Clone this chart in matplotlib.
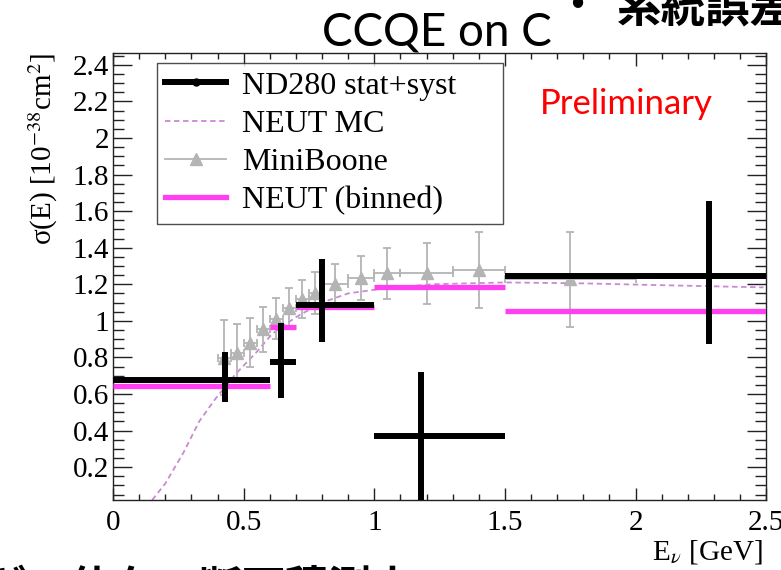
import matplotlib
matplotlib.use("Agg")
import matplotlib.pyplot as plt
from matplotlib.lines import Line2D
from matplotlib.ticker import MultipleLocator
import numpy as np

# ND280 measurement (stat+syst), bins in Ev [GeV]
nd_lo = [0.0, 0.6, 0.7, 1.0, 1.5]
nd_hi = [0.6, 0.7, 1.0, 1.5, 2.5]
nd_x = [0.43, 0.643, 0.80, 1.18, 2.28]
nd_y = [0.677, 0.776, 1.088, 0.371, 1.246]
nd_err_dn = [0.12, 0.20, 0.203, 0.40, 0.372]
nd_err_up = [0.153, 0.214, 0.252, 0.35, 0.41]

# NEUT prediction averaged in the ND280 bins
neut_bin_y = [0.645, 0.968, 1.074, 1.183, 1.056]

# NEUT MC curve
mc_x = [0.15, 0.2, 0.27, 0.33, 0.39, 0.47, 0.55, 0.61, 0.7, 0.8, 0.9, 1.0, 1.06, 1.22, 1.5, 1.8, 2.1, 2.49]
mc_y = [0.02, 0.11, 0.28, 0.45, 0.57, 0.71, 0.83, 0.93, 1.02, 1.10, 1.15, 1.17, 1.18, 1.20, 1.21, 1.205, 1.195, 1.183]

# MiniBooNE CCQE sigma(E)
mb_lo = [0.40, 0.45, 0.50, 0.55, 0.60, 0.65, 0.70, 0.75, 0.80, 0.90, 1.00, 1.10, 1.30, 1.50]
mb_hi = [0.45, 0.50, 0.55, 0.60, 0.65, 0.70, 0.75, 0.80, 0.90, 1.00, 1.10, 1.30, 1.50, 2.00]
mb_y = [0.799, 0.826, 0.881, 0.954, 1.012, 1.07, 1.118, 1.154, 1.20, 1.233, 1.26, 1.26, 1.278, 1.227]
mb_err = [0.206, 0.155, 0.135, 0.123, 0.112, 0.112, 0.105, 0.115, 0.11, 0.121, 0.138, 0.168, 0.21, 0.26]

black = "#000000"
magenta = "#ff3ff0"
plum = "#cc88d4"
grey = "#b4b4b4"
serif = ["Liberation Serif", "DejaVu Serif"]
cjk = ["Noto Sans CJK JP", "DejaVu Sans"]
plt.rcParams["mathtext.fontset"] = "stix"

fig = plt.figure(figsize=(7.81, 5.7), dpi=100)
ax = fig.add_axes([0.1447, 0.1228, 0.8363, 0.7842])

ax.plot(mc_x, mc_y, ls=(0, (3, 2)), color=plum, lw=1.3, zorder=2)

mb_x = [(a + b) / 2 for a, b in zip(mb_lo, mb_hi)]
mb_xerr = [(b - a) / 2 for a, b in zip(mb_lo, mb_hi)]
ax.errorbar(mb_x, mb_y, xerr=mb_xerr, yerr=mb_err, fmt="^", color=grey,
            ms=8, elinewidth=1.3, capsize=3, capthick=1.3, zorder=3)

ax.hlines(neut_bin_y, nd_lo, nd_hi, color=magenta, lw=3.8, zorder=4)

nd_xerr = [np.subtract(nd_x, nd_lo), np.subtract(nd_hi, nd_x)]
ax.errorbar(nd_x, nd_y, xerr=nd_xerr, yerr=[nd_err_dn, nd_err_up], fmt="o",
            color=black, ms=3, elinewidth=4.3, capsize=0, zorder=5)

ax.set_xlim(0, 2.5)
ax.set_ylim(0.02, 2.465)
ax.xaxis.set_minor_locator(MultipleLocator(0.1))
ax.yaxis.set_minor_locator(MultipleLocator(0.05))
ax.set_xticks(np.arange(0, 2.51, 0.5))
ax.set_xticklabels(["0", "0.5", "1", "1.5", "2", "2.5"])
ax.set_yticks(np.arange(0.2, 2.41, 0.2))
ax.set_yticklabels(["0.2", "0.4", "0.6", "0.8", "1", "1.2", "1.4", "1.6", "1.8", "2", "2.2", "2.4"])
ax.tick_params(which="both", direction="in", top=True, right=True, color="#222222", width=1.0)
ax.tick_params(axis="y", which="major", length=14, pad=3)
ax.tick_params(axis="y", which="minor", length=8)
ax.tick_params(axis="x", which="major", length=9, pad=7)
ax.tick_params(axis="x", which="minor", length=4)
ax.tick_params(axis="both", labelsize=21)
for lab in ax.get_xticklabels() + ax.get_yticklabels():
    lab.set_family(serif)
for sp in ax.spines.values():
    sp.set_linewidth(1.0)
    sp.set_color("#222222")

ax.set_ylabel("σ(E) [10$^{-38}$cm$^{2}$]", loc="top", fontsize=21,
              family=serif, labelpad=9)
fig.text(763 / 781, 1 - 552 / 570, r"E$_{\nu}$ [GeV]", fontsize=21, family=serif,
         ha="right", va="center")

handles = [
    Line2D([], [], color=black, lw=4.3, marker="o", ms=5),
    Line2D([], [], color=plum, lw=1.3, ls=(0, (3, 2))),
    Line2D([], [], color=grey, lw=1.3, marker="^", ms=8),
    Line2D([], [], color=magenta, lw=3.8),
]
labels = ["ND280 stat+syst", "NEUT MC", "MiniBoone", "NEUT (binned)"]
leg = ax.legend(handles, labels, loc="upper left", mode="expand",
                bbox_to_anchor=(0.0674, 0.62, 0.53, 0.358),
                prop={"family": serif, "size": 23}, frameon=True, fancybox=False,
                edgecolor="#222222", handlelength=1.9, handletextpad=0.5,
                labelspacing=0.28, borderpad=0.26, borderaxespad=0)
leg.get_frame().set_linewidth(1.0)

ax.text(0.786, 0.885, "Preliminary", transform=ax.transAxes, color="red",
        fontsize=25, family="Lato", ha="center", va="center")

fig.text(437 / 781, 1 - 33 / 570, "CCQE on C", fontsize=33, family="Lato",
         ha="center", va="center")
fig.text(577 / 781, 1 - 4 / 570, "•", fontsize=30, family=cjk, ha="center", va="center")
fig.text(617 / 781, 1 - 9 / 570, "系統誤差", fontsize=32, family=cjk, weight="bold",
         ha="left", va="center")
fig.text(-144 / 781, 1 - 602 / 570, "エネルギー依存の断面積測定", fontsize=31, family=cjk,
         weight="bold", ha="left", va="baseline")

fig.savefig("out.png", dpi=100)
